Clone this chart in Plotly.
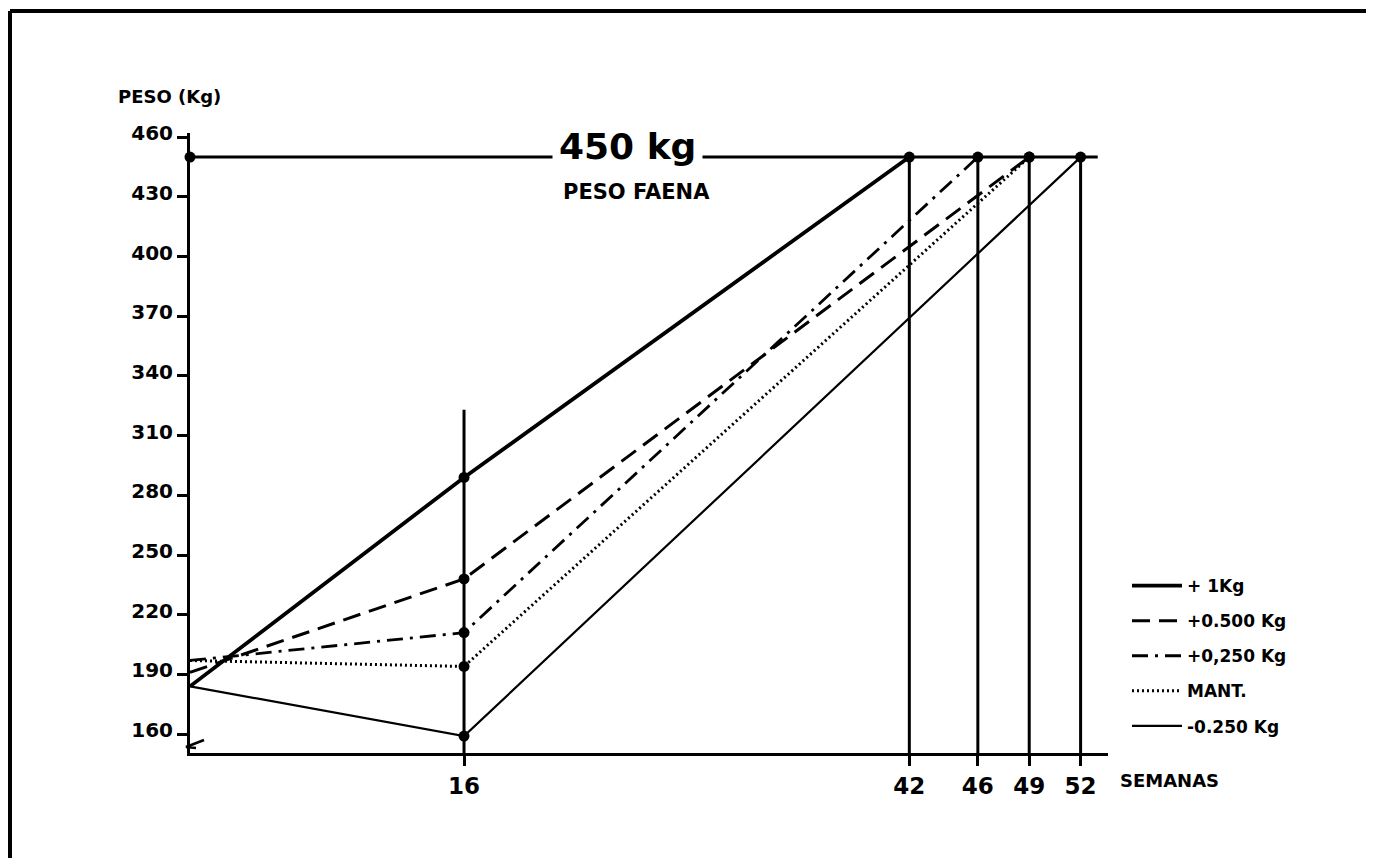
import plotly.graph_objects as go

# ---------------- data ----------------
series_names = ["+ 1Kg", "+0.500 Kg", "+0,250 Kg", "MANT.", "-0.250 Kg"]
start_week = [0, 0, 0, 0, 0]
start_weight = [184, 191, 197, 197, 184]
mid_week = [16, 16, 16, 16, 16]
mid_weight = [289, 238, 211, 194, 159]
end_week = [42, 49, 46, 49, 52]
end_weight = [450, 450, 450, 450, 450]

target_weight = 450
target_label = "450 kg"
target_sub = "PESO FAENA"
target_span = [0, 53]

x_ticks = [16, 42, 46, 49, 52]
y_ticks = [160, 190, 220, 250, 280, 310, 340, 370, 400, 430, 460]
mid_marker_top = 323

# ---------------- styles ----------------
dashes = ["solid", "18px,9px", "16px,7px,3px,7px", "2px,3px", "solid"]
widths = [3.8, 3, 2.8, 3, 2.2]

FONT = "DejaVu Sans"
OFF = 8  # page body margin in the browser
FIG_W, FIG_H = 1374 - OFF, 858 - OFF
# plot area, in reference-page pixels
L, T, W, H = 190, 133, 918, 620
x_range = [0, 53.6]
y_range = [150.5, 462.1]


def px_x(p):
    return (p - L) / W


def px_y(p):
    return (T + H - p) / H


fig = go.Figure()

for i, name in enumerate(series_names):
    fig.add_trace(go.Scatter(
        x=[start_week[i], mid_week[i], end_week[i]],
        y=[start_weight[i], mid_weight[i], end_weight[i]],
        mode="lines",
        name=name,
        legendgroup=name,
        line=dict(color="black", width=widths[i], dash=dashes[i]),
    ))

# target weight line
fig.add_trace(go.Scatter(
    x=target_span, y=[target_weight, target_weight], mode="lines",
    line=dict(color="black", width=3), showlegend=False, hoverinfo="skip"))

# dots
dot_x = list(mid_week) + list(end_week) + [target_span[0]]
dot_y = list(mid_weight) + list(end_weight) + [target_weight]
fig.add_trace(go.Scatter(
    x=dot_x, y=dot_y, mode="markers",
    marker=dict(color="black", size=11), showlegend=False, cliponaxis=False))

shapes = []
# vertical at week 16
shapes.append(dict(type="line", xref="x", yref="y", x0=mid_week[0], x1=mid_week[0],
                   y0=y_range[0], y1=mid_marker_top, line=dict(color="black", width=3)))
# verticals at end weeks
for w in sorted(set(end_week)):
    shapes.append(dict(type="line", xref="x", yref="y", x0=w, x1=w,
                       y0=y_range[0], y1=target_weight, line=dict(color="black", width=3)))
# axis break mark
shapes.append(dict(type="path", xref="paper", yref="paper",
                   path=f"M {px_x(204)} {px_y(740)} L {px_x(186)} {px_y(747)} L {px_x(196)} {px_y(748)}",
                   line=dict(color="black", width=2.5)))
# page border (top and left)
shapes.append(dict(type="line", xref="paper", yref="paper",
                   x0=px_x(10), x1=px_x(1400), y0=px_y(11), y1=px_y(11),
                   line=dict(color="black", width=4)))
shapes.append(dict(type="line", xref="paper", yref="paper",
                   x0=px_x(10), x1=px_x(10), y0=px_y(11), y1=px_y(900),
                   line=dict(color="black", width=4)))

BOLD = "bold"
annotations = [
    dict(text="PESO (Kg)", xref="paper", yref="paper", x=px_x(116), y=px_y(96),
         xanchor="left", yanchor="middle", showarrow=False,
         font=dict(family=FONT, size=18, color="black", weight=BOLD)),
    dict(text=target_label, xref="paper", yref="paper", x=px_x(627), y=px_y(146),
         xanchor="center", yanchor="middle", showarrow=False, bgcolor="white", borderpad=6,
         font=dict(family=FONT, size=36, color="black", weight=BOLD)),
    dict(text=target_sub, xref="paper", yref="paper", x=px_x(636), y=px_y(192),
         xanchor="center", yanchor="middle", showarrow=False,
         font=dict(family=FONT, size=21, color="black", weight=BOLD)),
    dict(text="SEMANAS", xref="paper", yref="paper", x=px_x(1118), y=px_y(780),
         xanchor="left", yanchor="middle", showarrow=False,
         font=dict(family=FONT, size=18, color="black", weight=BOLD)),
]

fig.update_layout(
    width=FIG_W, height=FIG_H,
    margin=dict(l=L - OFF, r=FIG_W - (L - OFF) - W, t=T - OFF, b=FIG_H - (T - OFF) - H, pad=0),
    paper_bgcolor="white", plot_bgcolor="white",
    showlegend=True,
    legend=dict(x=px_x(1127), y=px_y(568), xanchor="left", yanchor="top",
                font=dict(family=FONT, size=17, color="black", weight=BOLD),
                tracegroupgap=10, bgcolor="rgba(0,0,0,0)", itemwidth=50),
    xaxis=dict(range=x_range, tickvals=x_ticks, ticktext=[str(v) for v in x_ticks],
               showgrid=False, zeroline=False, showline=True, linecolor="black", linewidth=3,
               ticks="outside", ticklen=10, tickwidth=3, tickcolor="black",
               tickfont=dict(family=FONT, size=23, color="black", weight=BOLD)),
    yaxis=dict(range=y_range, tickvals=y_ticks, ticktext=[str(v) for v in y_ticks],
               showgrid=False, zeroline=False, showline=True, linecolor="black", linewidth=3,
               ticks="outside", ticklen=10, tickwidth=3, tickcolor="black",
               ticklabelshift=-4,
               tickfont=dict(family=FONT, size=20, color="black", weight=BOLD)),
    shapes=shapes,
    annotations=annotations,
)

fig.write_html("out.html")
